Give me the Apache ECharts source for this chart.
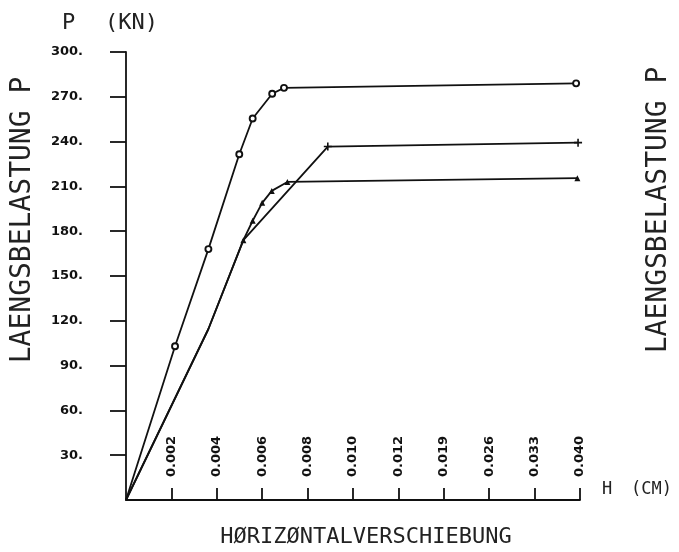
<!DOCTYPE html>
<html>
<head>
<meta charset="utf-8">
<script src="https://cdn.jsdelivr.net/npm/echarts@6/dist/echarts.min.js"></script>
<style>
html,body{margin:0;padding:0;background:#fff;}
#chart{width:679px;height:552px;}
</style>
</head>
<body>
<div id="chart"></div>
<script>
// Tick labels of the (piecewise) H axis, in cm
const xTickLabels = ['0', '0.002', '0.004', '0.006', '0.008', '0.010', '0.012', '0.019', '0.026', '0.033', '0.040'];
const yTicks = [0, 30, 60, 90, 120, 150, 180, 210, 240, 270, 300];

// Series: H (cm) and P (kN)
const circleH = [0, 0.00216, 0.00363, 0.00499, 0.00558, 0.00644, 0.00696, 0.0394];
const circleP = [0, 103, 168, 231.5, 255.5, 272, 276, 279];

const plusH = [0, 0.00363, 0.00517, 0.00889, 0.0397];
const plusP = [0, 114.5, 174, 236.7, 239.3];

const triH = [0, 0.00363, 0.00517, 0.00558, 0.0060, 0.00642, 0.00711, 0.0396];
const triP = [0, 114.5, 174, 187, 199, 207, 213, 215.5];

// map H value onto the axis position, using the tick labels as break points
const tickVals = xTickLabels.map(Number);
function hToAxis(h) {
  for (let i = 0; i < tickVals.length - 1; i++) {
    if (h <= tickVals[i + 1]) {
      return i + (h - tickVals[i]) / (tickVals[i + 1] - tickVals[i]);
    }
  }
  return tickVals.length - 1;
}
function pts(hs, ps) { return hs.map((h, i) => [hToAxis(h), ps[i]]); }

const hiddenMarks = { circle: [0], plus: [0, 1, 2], tri: [0, 1] };

const chart = echarts.init(document.getElementById('chart'), null, { renderer: 'canvas' });
const lineStyle = { color: '#111', width: 1.8 };
const tickFont = { fontFamily: 'DejaVu Sans', fontWeight: 'bold', fontSize: 13, color: '#111' };
const titleFont = 'DejaVu Sans Mono';

chart.setOption({
  animation: false,
  backgroundColor: '#fff',
  grid: { left: 126, right: 99, top: 52, bottom: 52, containLabel: false },
  xAxis: {
    type: 'value', min: 0, max: xTickLabels.length - 1, interval: 1,
    axisLine: { show: true, lineStyle: { color: '#111', width: 1.8 } },
    axisTick: { show: true, inside: true, length: 12, lineStyle: { color: '#111', width: 1.8 } },
    axisLabel: {
      inside: true, rotate: 90, margin: 23, showMinLabel: false,
      formatter: (v) => (v === 0 ? '' : xTickLabels[Math.round(v)]),
      ...tickFont
    },
    splitLine: { show: false }
  },
  yAxis: {
    type: 'value', min: 0, max: 300, interval: 30,
    axisLine: { show: true, lineStyle: { color: '#111', width: 1.8 } },
    axisTick: { show: true, inside: false, length: 16, lineStyle: { color: '#111', width: 1.8 } },
    axisLabel: {
      margin: 43, showMinLabel: false, align: 'right',
      formatter: (v) => (v === 0 ? '' : yTicks[Math.round(v / 30)] + '.'),
      ...tickFont
    },
    splitLine: { show: false }
  },
  series: [
    {
      type: 'line', data: pts(circleH, circleP), lineStyle,
      symbol: 'circle',
      symbolSize: (v, p) => (hiddenMarks.circle.includes(p.dataIndex) ? 0 : 6),
      itemStyle: { color: '#fff', borderColor: '#111', borderWidth: 1.9 },
      showAllSymbol: true, z: 3
    },
    {
      type: 'line', data: pts(plusH, plusP), lineStyle,
      symbol: 'path://M-0.6,-3H0.6V-0.6H3V0.6H0.6V3H-0.6V0.6H-3V-0.6H-0.6Z',
      symbolSize: (v, p) => (hiddenMarks.plus.includes(p.dataIndex) ? 0 : 8),
      itemStyle: { color: '#111', borderWidth: 0 },
      showAllSymbol: true, z: 2
    },
    {
      type: 'line', data: pts(triH, triP), lineStyle,
      symbol: 'triangle',
      symbolSize: (v, p) => (hiddenMarks.tri.includes(p.dataIndex) ? 0 : 6),
      itemStyle: { color: '#111', borderWidth: 0 },
      showAllSymbol: true, z: 2
    }
  ],
  graphic: [
    { type: 'text', left: 62, top: 12, style: { text: 'P', font: '22px ' + titleFont, fill: '#222' } },
    { type: 'text', left: 105, top: 12, style: { text: '(KN)', font: '22px ' + titleFont, fill: '#222' } },
    { type: 'text', left: 602, top: 481, style: { text: 'H', font: '17px ' + titleFont, fill: '#222' } },
    { type: 'text', left: 631, top: 481, style: { text: '(CM)', font: '17px ' + titleFont, fill: '#222' } },
    { type: 'text', x: 366, y: 537, style: { text: 'HØRIZØNTALVERSCHIEBUNG', font: '22px ' + titleFont, fill: '#222', align: 'center', verticalAlign: 'middle' } },
    { type: 'text', x: 23, y: 220, rotation: Math.PI / 2, style: { text: 'LAENGSBELASTUNG P', font: '28px ' + titleFont, fill: '#222', align: 'center', verticalAlign: 'middle' } },
    { type: 'text', x: 659, y: 210, rotation: Math.PI / 2, style: { text: 'LAENGSBELASTUNG P', font: '28px ' + titleFont, fill: '#222', align: 'center', verticalAlign: 'middle' } }
  ]
});
</script>
</body>
</html>
